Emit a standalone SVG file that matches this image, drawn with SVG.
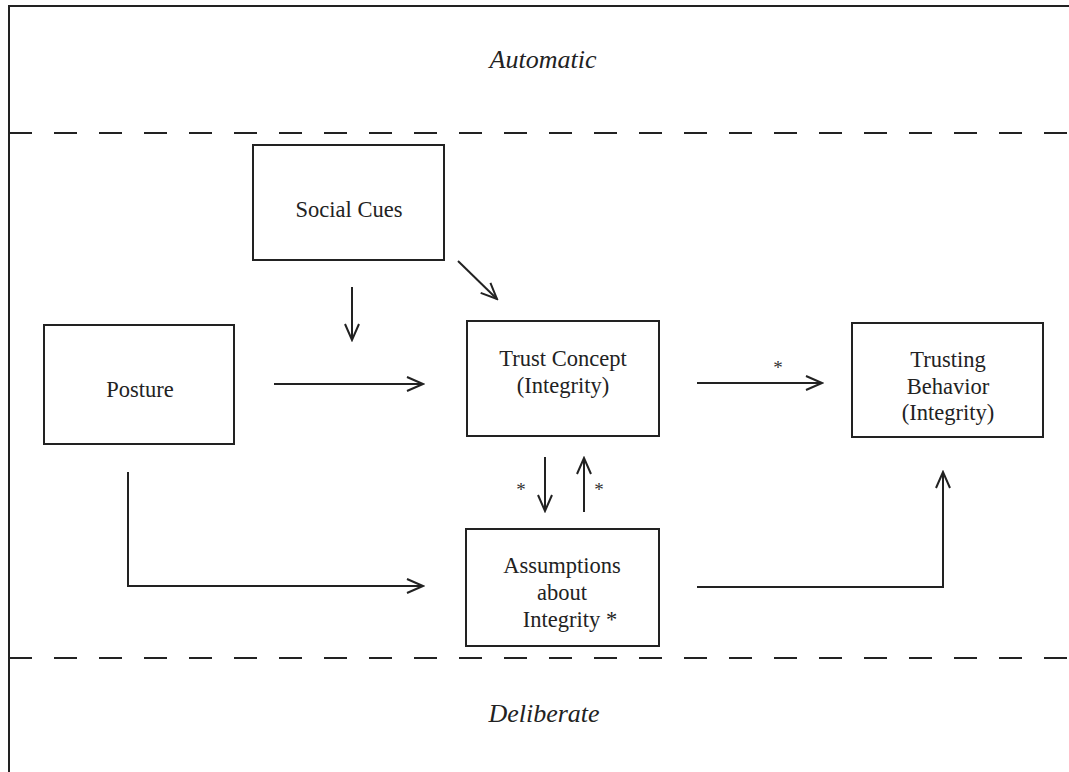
<svg xmlns="http://www.w3.org/2000/svg" width="1069" height="772" viewBox="0 0 1069 772">
<style>
.box{fill:#fff;stroke:#222;stroke-width:2}
.t{font-family:"Liberation Serif","Times New Roman",serif;font-size:22.5px;fill:#222;text-anchor:middle}
.it{font-family:"Liberation Serif","Times New Roman",serif;font-size:26px;font-style:italic;fill:#222;text-anchor:middle}
.ln{fill:none;stroke:#222;stroke-width:2}
.dash{fill:none;stroke:#222;stroke-width:2;stroke-dasharray:23 22}
.ast{font-family:"Liberation Serif","Times New Roman",serif;font-size:19px;fill:#333;text-anchor:middle}
</style>
<defs>
<marker id="ah" viewBox="0 0 20 20" refX="18" refY="10" markerWidth="20" markerHeight="20" markerUnits="userSpaceOnUse" orient="auto">
<path d="M2,3 L18,10 L2,17" fill="none" stroke="#222" stroke-width="2"/>
</marker>
</defs>
<rect width="1069" height="772" fill="#fff"/>
<g id="frame">
<path class="ln" d="M9,772 V6 H1069"/>
<line class="dash" x1="9" y1="133" x2="1069" y2="133"/>
<line class="dash" x1="9" y1="658" x2="1069" y2="658"/>
<text class="it" x="543" y="68">Automatic</text>
<text class="it" x="544" y="722">Deliberate</text>
</g>
<g id="social-cues">
<rect class="box" x="253" y="145" width="191" height="115"/>
<text class="t" x="349" y="217">Social Cues</text>
</g>
<g id="posture">
<rect class="box" x="44" y="325" width="190" height="119"/>
<text class="t" x="140" y="397">Posture</text>
</g>
<g id="trust-concept">
<rect class="box" x="467" y="321" width="192" height="115"/>
<text class="t" x="563" y="366">Trust Concept</text>
<text class="t" x="563" y="393">(Integrity)</text>
</g>
<g id="trusting-behavior">
<rect class="box" x="852" y="323" width="191" height="114"/>
<text class="t" x="948" y="367">Trusting</text>
<text class="t" x="948" y="394">Behavior</text>
<text class="t" x="948" y="420">(Integrity)</text>
</g>
<g id="assumptions">
<rect class="box" x="466" y="529" width="193" height="117"/>
<text class="t" x="562" y="573">Assumptions</text>
<text class="t" x="562" y="600">about</text>
<text class="t" x="570" y="627">Integrity *</text>
</g>
<g id="connectors">
<line class="ln" x1="352" y1="287" x2="352" y2="340" marker-end="url(#ah)"/>
<line class="ln" x1="458" y1="261" x2="497" y2="299" marker-end="url(#ah)"/>
<line class="ln" x1="274" y1="384" x2="423" y2="384" marker-end="url(#ah)"/>
<line class="ln" x1="697" y1="383" x2="822" y2="383" marker-end="url(#ah)"/>
<text class="ast" x="778" y="374">*</text>
<line class="ln" x1="545" y1="457" x2="545" y2="511" marker-end="url(#ah)"/>
<text class="ast" x="521" y="496">*</text>
<line class="ln" x1="584" y1="512" x2="584" y2="458" marker-end="url(#ah)"/>
<text class="ast" x="599" y="496">*</text>
<path class="ln" d="M128,472 V586 H423" marker-end="url(#ah)"/>
<path class="ln" d="M697,587 H943 V472" marker-end="url(#ah)"/>
</g>
</svg>
